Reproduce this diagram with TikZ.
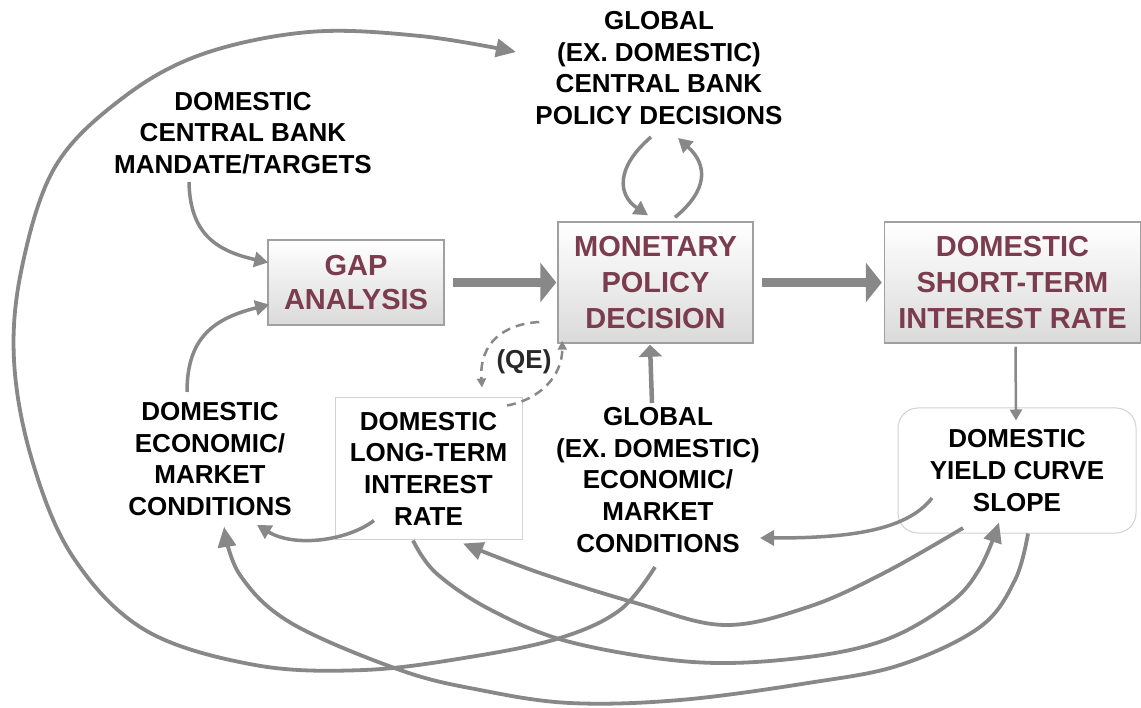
\documentclass[tikz,border=0pt]{standalone}
\usepackage{fontspec}
\setmainfont{Liberation Sans}
\usetikzlibrary{arrows.meta,calc}
\definecolor{arrgray}{RGB}{136,136,136}
\definecolor{maroontxt}{RGB}{122,60,78}
\definecolor{boxline}{RGB}{160,160,160}
\definecolor{lightline}{RGB}{210,210,210}
\definecolor{boxbottom}{RGB}{218,218,218}
\definecolor{qegray}{RGB}{40,40,40}
\begin{document}
\begin{tikzpicture}[x=1pt,y=-1pt,
  lbl/.style={align=center, inner sep=0pt, font=\fontsize{26}{31.7}\selectfont\bfseries},
  mbox/.style={draw=boxline, line width=1.5pt, top color=white, bottom color=boxbottom,
    align=center, inner sep=0pt, text=maroontxt, font=\fontsize{29}{36}\selectfont\bfseries},
  plainbox/.style={draw=lightline, line width=1pt, fill=white},
  arr/.style={draw=arrgray, line width=3.5pt, -{Triangle[length=14pt,width=15pt]}},
  curvearr/.style={draw=arrgray, line width=3.8pt, -{Triangle[length=20pt,width=18pt]}},
  thickarr/.style={draw=arrgray, line width=9pt, -{Triangle[length=16pt,width=39pt]}},
  qedash/.style={draw=arrgray, line width=2.5pt, dash pattern=on 9pt off 6pt, -{Triangle[length=9pt,width=9pt]}}
]
\useasboundingbox (0,0) rectangle (1141,708);
\fill[white] (0,0) rectangle (1141,708);

% nodes
\node[lbl] (gcb) at (659,68) {GLOBAL\\(EX. DOMESTIC)\\CENTRAL BANK\\POLICY DECISIONS};
\node[lbl] (dcb) at (243,133) {DOMESTIC\\CENTRAL BANK\\MANDATE/TARGETS};
\node[mbox, minimum width=176pt, minimum height=85pt, font=\fontsize{29}{34}\selectfont\bfseries] (gap) at (356,282.5) {GAP\\ANALYSIS};
\node[mbox, minimum width=195pt, minimum height=121pt] (mpd) at (655.5,282.5) {MONETARY\\POLICY\\DECISION};
\node[mbox, minimum width=256pt, minimum height=121pt] (st) at (1012.5,282.5) {DOMESTIC\\SHORT-TERM\\INTEREST RATE};
\node[lbl] (dem) at (210,459) {DOMESTIC\\ECONOMIC/\\MARKET\\CONDITIONS};
\node[lbl, plainbox, minimum width=187pt, minimum height=141pt] (lt) at (428.5,468.5) {DOMESTIC\\LONG-TERM\\INTEREST\\RATE};
\node[lbl] (gem) at (658,480) {GLOBAL\\(EX. DOMESTIC)\\ECONOMIC/\\MARKET\\CONDITIONS};
\node[lbl, plainbox, rounded corners=20pt, minimum width=238pt, minimum height=125pt] (yc) at (1017,470.5) {DOMESTIC\\YIELD CURVE\\SLOPE};
\node[lbl, text=qegray] (qe) at (524,362) {(QE)};

% thick arrows
\draw[thickarr] ($(gap.east)+(8,0)$) -- ($(mpd.west)+(-1,0)$);
\draw[thickarr] ($(mpd.east)+(8,0)$) -- ($(st.west)+(-2,0)$);

% thin arrows
\draw[arr] ($(dcb.center)+(-54,49)$) .. controls +(1,50) and +(-54,-12) .. ($(gap.west)+(1,-20)$);
\draw[arr] ($(dem.center)+(-23,-67)$) .. controls +(0,-55) and +(-55,14) .. ($(gap.west)+(2,22)$);
\draw[arr, line width=4.5pt, -{Triangle[length=12pt,width=23pt]}] ($(gem.center)+(-6,-77)$) -- ($(mpd.south)+(-5.5,1)$);
\draw[arr, line width=2.5pt, -{Triangle[length=11pt,width=12pt]}] ($(st.south)+(3,3)$) -- ($(yc.north)+(-1,13)$);
\draw[arr] ($(yc.center)+(-85,27.5)$) .. controls +(-27,35) and +(80,0) .. ($(gem.center)+(102,58)$);
\draw[arr] ($(lt.center)+(-54.5,52)$) .. controls +(-26,20) and +(38,23) .. ($(dem.center)+(47,66)$);
\draw[arr] ($(gcb.center)+(-8,69)$) .. controls +(-36,31) and +(-30,-20) .. ($(mpd.north)+(-7.5,-6)$);
\draw[arr] ($(mpd.north)+(19.5,-4)$) .. controls +(33,-27) and +(30,27) .. ($(gcb.center)+(19,70)$);

% dashed QE arrows
\draw[qedash] ($(mpd.west)+(-18,39.5)$) .. controls +(-35,2) and +(-3,-45) .. ($(lt.north)+(53.5,-10)$);
\draw[qedash] ($(lt.north)+(78.5,8)$) .. controls +(33,-6) and +(0,35) .. ($(mpd.south west)+(5,-3)$);

% long curves
\coordinate (a0) at ($(gem.center)+(-3,87)$);
\coordinate (a1) at ($(gcb.center)+(-143,-16)$);
\draw[curvearr] plot[smooth, tension=0.6] coordinates {(a0) (620,610) (560,638) (470,657) (364,670) (255,665) (145,630) (73,557) (32,460) (14,360) (22,267) (55,167) (120,100) (200,55) (309,32) (420,36) (a1)};

\coordinate (b0) at ($(yc.center)+(-54,57.5)$);
\coordinate (b1) at ($(lt.south)+(34.5,4)$);
\draw[curvearr] plot[smooth, tension=0.6] coordinates {(b0) (884,573) (808,607) (724,625) (636,603) (540,573) (b1)};

\coordinate (c0) at ($(lt.south)+(-15.5,1)$);
\coordinate (c1) at ($(yc.south)+(-18,-11)$);
\draw[curvearr] plot[smooth, tension=0.6] coordinates {(c0) (436,573) (491,610) (570,642) (693,662) (800,658) (885,640) (950,603) (980,568) (c1)};

\coordinate (d0) at ($(yc.south)+(11,0)$);
\coordinate (d1) at ($(dem.center)+(14,68)$);
\draw[curvearr] plot[smooth, tension=0.6] coordinates {(d0) (1015,580) (980,627) (900,665) (808,683) (680,700) (570,703) (480,690) (400,670) (291,623) (240,575) (d1)};
\end{tikzpicture}
\end{document}
